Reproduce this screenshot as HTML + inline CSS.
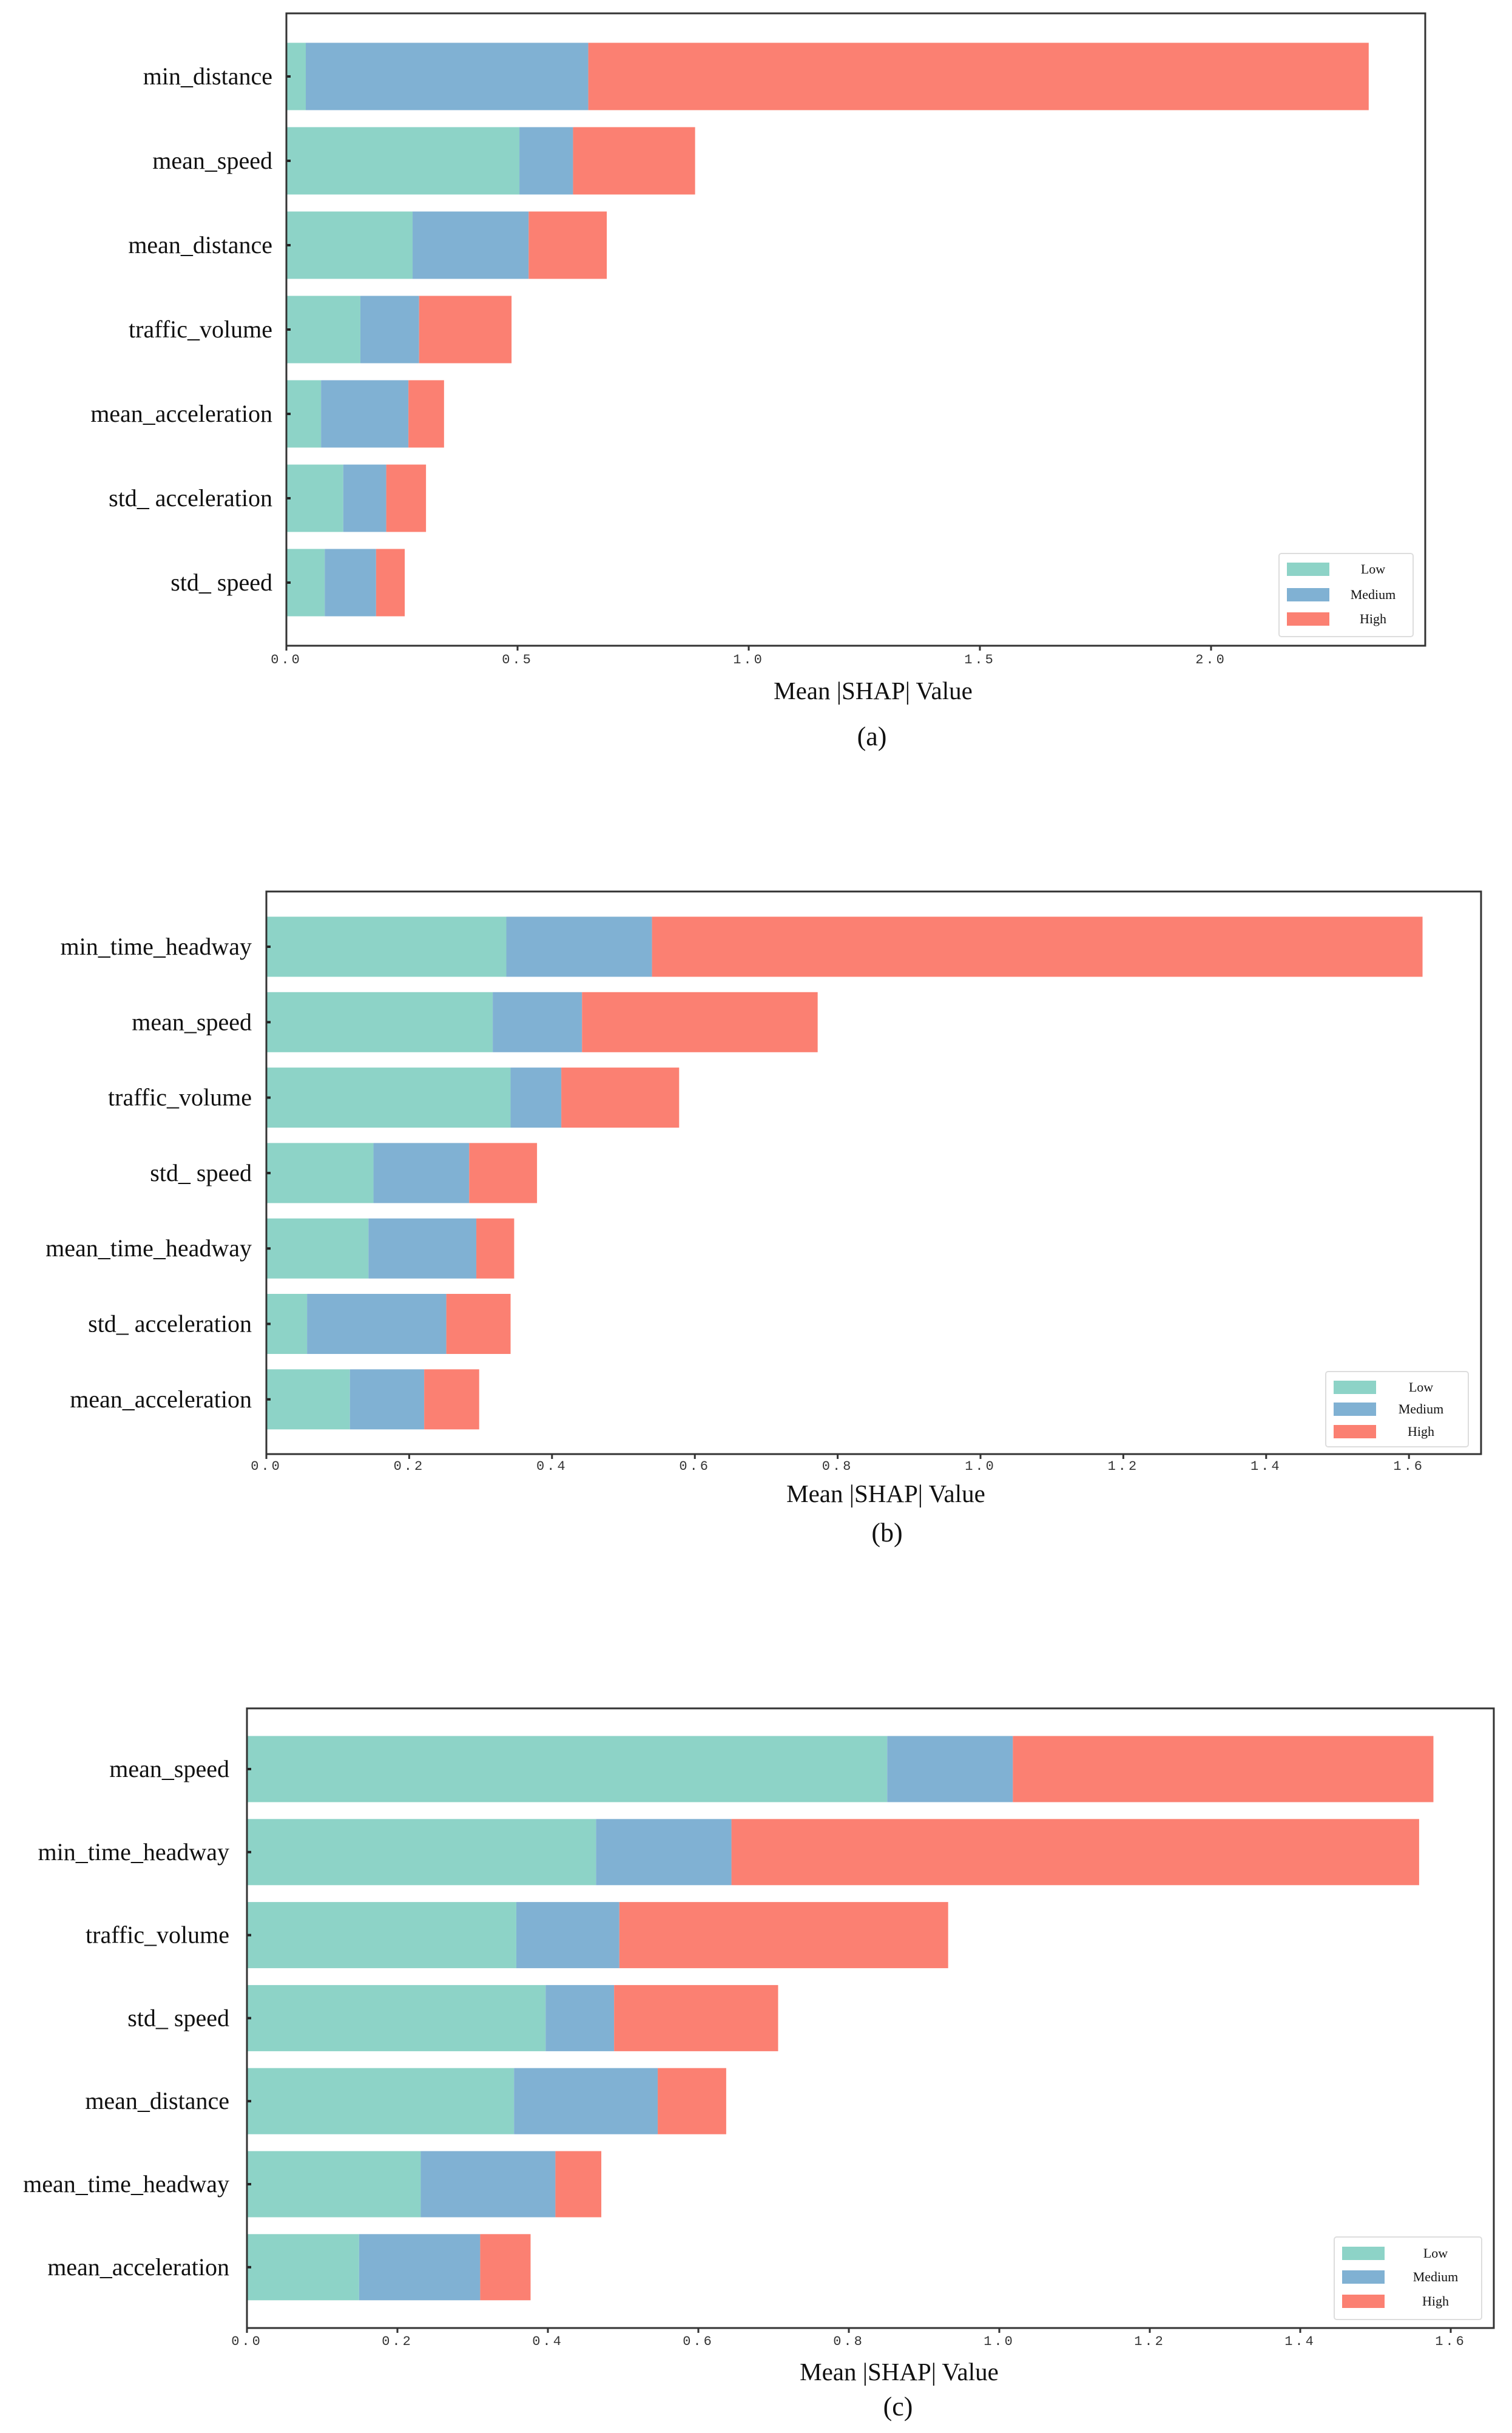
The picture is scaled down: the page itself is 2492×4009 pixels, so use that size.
<!DOCTYPE html>
<html><head><meta charset="utf-8">
<style>
html,body{margin:0;padding:0;background:#fff;}
svg{display:block;}
</style></head>
<body>
<svg id="fig" width="2492" height="4009" viewBox="0 0 2492 4009" xmlns="http://www.w3.org/2000/svg"></svg>
<script>
// Panel (a)
const catsA = ["min_distance","mean_speed","mean_distance","traffic_volume","mean_acceleration","std_ acceleration","std_ speed"];
const lowA  = [0.042,0.504,0.273,0.160,0.075,0.123,0.083];
const medA  = [0.611,0.116,0.251,0.127,0.189,0.093,0.111];
const highA = [1.688,0.264,0.169,0.200,0.077,0.086,0.062];
const ticksA = [0.0,0.5,1.0,1.5,2.0];
// Panel (b)
const catsB = ["min_time_headway","mean_speed","traffic_volume","std_ speed","mean_time_headway","std_ acceleration","mean_acceleration"];
const lowB  = [0.336,0.317,0.342,0.150,0.143,0.057,0.117];
const medB  = [0.204,0.125,0.071,0.134,0.151,0.195,0.104];
const highB = [1.079,0.330,0.165,0.095,0.053,0.090,0.077];
const ticksB = [0.0,0.2,0.4,0.6,0.8,1.0,1.2,1.4,1.6];
// Panel (c)
const catsC = ["mean_speed","min_time_headway","traffic_volume","std_ speed","mean_distance","mean_time_headway","mean_acceleration"];
const lowC  = [0.851,0.464,0.358,0.397,0.355,0.231,0.149];
const medC  = [0.167,0.180,0.137,0.091,0.191,0.179,0.161];
const highC = [0.559,0.914,0.437,0.218,0.091,0.061,0.067];
const ticksC = [0.0,0.2,0.4,0.6,0.8,1.0,1.2,1.4,1.6];

const legendLabels = ["Low","Medium","High"];
const COLORS = ["#8dd3c7","#80b1d3","#fb8072"];
const NS = "http://www.w3.org/2000/svg";
const svg = document.getElementById("fig");
function mk(tag, attrs, parent){const e=document.createElementNS(NS,tag);for(const k in attrs)e.setAttribute(k,attrs[k]);(parent||svg).appendChild(e);return e;}

function panel(cfg){
  const g = mk("g",{});
  
  
  const x = v => cfg.x0 + v*cfg.unit;
  const y = i => cfg.rowY0 + i*cfg.rowStep;
  const series=[cfg.low,cfg.med,cfg.high];
  cfg.cats.forEach((c,i)=>{
    let acc=0;
    series.forEach((s,k)=>{
      const r = mk("rect",{x:x(acc),y:y(i)-cfg.barH/2,width:s[i]*cfg.unit,height:cfg.barH,fill:COLORS[k]},g);
      
      
      acc+=s[i];
    });
    const t = mk("text",{x:cfg.labelX,y:y(i)+13,"text-anchor":"end","font-family":"Liberation Serif, serif","font-size":40,fill:"#111"},g);
    t.textContent=c;
    
    
    mk("line",{x1:cfg.x0,x2:cfg.x0+7,y1:y(i),y2:y(i),stroke:"#222","stroke-width":4},g);
  });
  const box = mk("rect",{x:cfg.x0,y:cfg.top,width:cfg.x1-cfg.x0,height:cfg.bottom-cfg.top,fill:"none",stroke:"#333","stroke-width":3},g);
  
  
  cfg.ticks.forEach(tv=>{
    mk("line",{x1:x(tv),x2:x(tv),y1:cfg.bottom,y2:cfg.bottom+8,stroke:"#333","stroke-width":3},g);
    const t = mk("text",{x:x(tv),y:cfg.tickY+8,"text-anchor":"middle","font-family":"Liberation Mono, monospace","font-size":22,fill:"#333","letter-spacing":4},g);
    t.textContent=tv.toFixed(1);
    
    
  });
  const xl = mk("text",{x:cfg.xlabelX,y:cfg.xlabelY+14,"text-anchor":"middle","font-family":"Liberation Serif, serif","font-size":41,fill:"#111"},g);
  xl.textContent="Mean |SHAP| Value";
  
  
  const cap = mk("text",{x:cfg.capX,y:cfg.capY+15,"text-anchor":"middle","font-family":"Liberation Serif, serif","font-size":44,fill:"#111"},g);
  cap.textContent=cfg.caption;
  
  
  const L=cfg.leg;
  const lb = mk("rect",{x:L.x,y:L.y,width:L.w,height:L.h,fill:"#fff",stroke:"#ddd","stroke-width":2,rx:4},g);
  
  
  legendLabels.forEach((lab,k)=>{
    const cy=L.ys[k];
    mk("rect",{x:L.x+13,y:cy-11,width:70,height:22,fill:COLORS[k]},g);
    const t=mk("text",{x:L.tx,y:cy+7,"text-anchor":"middle","font-family":"Liberation Serif, serif","font-size":22,fill:"#111"},g);
    t.textContent=lab;
    
    
  });
}

panel({name:"panel-a",cats:catsA,low:lowA,med:medA,high:highA,ticks:ticksA,
  x0:472,x1:2349,unit:762,top:22,bottom:1064,rowY0:126,rowStep:139,barH:111,labelX:449,
  tickY:1085,xlabelX:1439,xlabelY:1138,capX:1437,capY:1213,caption:"(a)",
  leg:{x:2108,y:912,w:221,h:137,ys:[938,980,1020],tx:2263}});
panel({name:"panel-b",cats:catsB,low:lowB,med:medB,high:highB,ticks:ticksB,
  x0:439,x1:2441,unit:1177,top:1469,bottom:2396,rowY0:1560,rowStep:124.3,barH:99,labelX:415,
  tickY:2414,xlabelX:1460,xlabelY:2461,capX:1462,capY:2525,caption:"(b)",
  leg:{x:2185,y:2260,w:235,h:124,ys:[2286,2322,2359],tx:2342}});
panel({name:"panel-c",cats:catsC,low:lowC,med:medC,high:highC,ticks:ticksC,
  x0:407,x1:2462,unit:1240,top:2815,bottom:3836,rowY0:2915,rowStep:136.8,barH:109,labelX:378,
  tickY:3856,xlabelX:1482,xlabelY:3908,capX:1480,capY:3965,caption:"(c)",
  leg:{x:2199,y:3686,w:243,h:136,ys:[3713,3752,3792],tx:2366}});
</script>
</body></html>
